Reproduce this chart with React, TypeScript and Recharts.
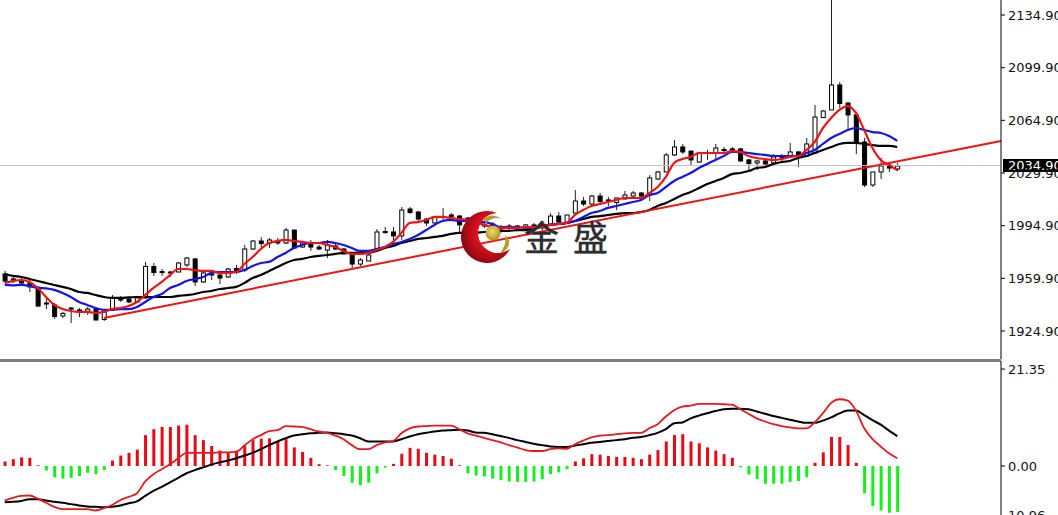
import { Bar, Cell, ComposedChart, Line, ReferenceLine, XAxis, YAxis } from 'recharts';

// candles, oldest first
const opens = [1962.8,1959.5,1958.1,1956.8,1954,1943.5,1942.2,1934.9,1939.5,1938.9,1938,1939.5,1932.6,1938.9,1946.9,1946.2,1944.2,1946.9,1967.8,1964.4,1964.1,1964.1,1968.8,1972.8,1957.5,1962.1,1962.1,1960.8,1966.4,1965.4,1979.4,1984.7,1983.4,1984.7,1983.4,1992,1980.7,1982.7,1980.7,1978.7,1981.4,1979.4,1976.1,1969.4,1971.4,1979.4,1991,1990.7,1988.1,2006,2004,1999.3,1996.7,2000.7,2002,2001.3,1999.3,1998,1995.4,1996,1993.4,1994,1993.4,1993.4,1995.4,1993.4,1996,2001.3,1997.3,2003.3,2011.3,2009.3,2014.6,2012,2010.3,2012.6,2014.6,2016.6,2015.3,2025.9,2030.6,2041.9,2047.2,2044.5,2037.2,2043.5,2043.2,2045.5,2045.9,2045.9,2038.6,2036.6,2037.9,2036.6,2040.9,2040.6,2043.9,2041.2,2043.2,2066.8,2071.8,2088.4,2076.4,2068.5,2050.5,2021.9,2030.6,2035.2,2032.6];
const highs = [1964.8,1960.8,1960.1,1959.5,1954.8,1946.9,1943.5,1937.6,1940.9,1940.2,1940.9,1939.5,1938.2,1948.8,1948.2,1946.9,1948.2,1970.8,1970.1,1966.1,1964.8,1970.8,1974.1,1973.4,1965.4,1964.8,1964.1,1966.8,1968.8,1982.1,1985.4,1987.4,1986.7,1986.7,1993.4,1992,1984.1,1985.4,1982.1,1985.4,1983.4,1980.1,1976.1,1973.4,1978.1,1992.7,1994,1994,2007.3,2007.3,2004.7,2000,2001.3,2006.7,2003.3,2002,2000.7,1998.7,1996.7,1997.3,1995.4,1996,1995.4,1996,1996.7,1997.3,2003.3,2004,2002,2018.6,2014,2015.3,2016.6,2014,2013.3,2018,2018,2017.3,2028.6,2031.2,2043.2,2051.8,2049.2,2044.5,2043.9,2045.2,2049.2,2047.2,2047.2,2046.5,2039.2,2038.6,2039.2,2042.5,2042.5,2049.9,2044.5,2053.2,2075.1,2071.8,2160,2090.4,2077.1,2070.4,2053.2,2030.6,2039.9,2037.2,2036.6];
const lows = [1956.8,1956.8,1955.5,1950.8,1940.9,1939.5,1932.9,1933.6,1930.2,1934.2,1935.6,1932.2,1931.6,1938.2,1944.2,1943.5,1943.5,1946.2,1961.5,1961.5,1960.8,1964.1,1967.4,1954.8,1956.8,1958.8,1956.1,1960.1,1962.8,1964.1,1978.7,1980.1,1980.1,1982.1,1982.7,1980.1,1980.1,1978.1,1978.7,1973.4,1978.7,1976.1,1966.1,1968.1,1971.4,1978.7,1989.4,1982.1,1985.4,2002.7,1997.3,1994.7,1996,1998.7,1999.3,1990.1,1997.3,1994.7,1993.4,1993.4,1990.1,1992,1992,1992.7,1992,1990.7,1995.4,1996.7,1996.7,2002.7,2008,2008.6,2009.3,2008,2005.3,2012.6,2014,2014,2011.3,2025.3,2030.6,2041.2,2042.5,2035.2,2036.6,2038.6,2039.2,2042.5,2043.2,2037.2,2031.2,2031.9,2033.2,2035.2,2037.9,2039.9,2033.9,2041.2,2043.2,2066.5,2071.8,2073.1,2057.8,2042.5,2020.6,2020.6,2025.9,2030.6,2031.2];
const closes = [1958.1,1958.8,1956.8,1954.2,1941.5,1942.9,1934.5,1936.6,1940.2,1938.2,1939.5,1932.2,1937.6,1946.9,1945.5,1944.2,1946.9,1967.8,1963.8,1963.8,1963.5,1970.1,1973.4,1957.5,1963.5,1962.8,1960.1,1966.1,1964.1,1979.4,1984.7,1983,1985.4,1983.4,1992,1980.1,1983.4,1980.7,1979.4,1982.1,1979.4,1976.1,1969.4,1972.1,1975.4,1990.7,1990.4,1988.1,2005.3,2003.7,1999.3,1996.7,2000.7,2001,2001,1995.4,2000,1996.7,1994.7,1994.4,1992.7,1994.7,1994.7,1995.4,1994,1996,2001.3,1997.3,2002,2011.3,2009.3,2014.6,2011,2011.3,2013.3,2015.3,2016.6,2014.6,2026.6,2030.6,2041.9,2047.2,2043.9,2038.6,2043.2,2042.9,2046.5,2044.9,2044.1,2037.9,2036.2,2037.9,2035.9,2040.6,2040.6,2043.9,2041.9,2049.2,2067.1,2071.1,2088.4,2076.1,2068.5,2049.9,2021.9,2030.6,2034.6,2033.2,2034.6];

// moving averages
const maRed = [1956.8,1958.1,1958.8,1957.5,1953.5,1947.5,1942.2,1939.5,1938.2,1937.6,1937.6,1936.9,1937.6,1939.5,1940.2,1941.5,1944.2,1948.8,1953.5,1957.5,1962.1,1966.1,1966.1,1965.4,1964.8,1964.8,1963.5,1963.5,1964.1,1969.4,1974.1,1979.4,1983.4,1984.7,1985.4,1984.7,1984.1,1983.4,1983.4,1982.1,1980.7,1978.1,1976.1,1976.1,1976.8,1978.7,1980.7,1984.1,1990.1,1996.7,1997.3,1998.7,2000.7,2000.7,2000,1999.3,1998.7,1997.3,1995.4,1994,1993.4,1993.4,1993.4,1994,1994,1994,1995.4,1996,1996.7,2002,2005.3,2008,2009.3,2010.6,2012,2013.3,2013.3,2013.3,2016.6,2020.6,2027.3,2036.6,2039.2,2040.6,2043.2,2043.2,2043.2,2043.2,2044.5,2043.9,2041.2,2039.9,2039.2,2038.6,2039.2,2040.6,2041.2,2045.2,2050.5,2059.8,2066.5,2071.8,2074.4,2069.8,2058.5,2046.5,2038.6,2035.2,2031.9];
const maBlue = [1955.5,1955.2,1955.5,1954.8,1953.5,1953.2,1952.2,1950.2,1947.5,1944.2,1942.2,1940.2,1938.9,1938.9,1939.5,1939.5,1940.9,1944.2,1947.5,1949.5,1953.5,1955.5,1958.1,1959.5,1960.8,1963.5,1964.1,1964.1,1964.1,1965.4,1968.1,1970.1,1970.8,1974.1,1976.8,1980.1,1982.1,1983.4,1983.4,1984.1,1983.4,1982.1,1980.1,1978.1,1978.1,1979.4,1980.7,1982.7,1984.1,1986.1,1988.7,1992,1995.4,1998,1998.7,1998,1998,1997.3,1997.3,1996,1994,1994,1994,1993.4,1993.4,1994,1995.4,1996,1996.7,1998,2000.7,2003.3,2004.7,2006.7,2008,2009.3,2010.6,2012,2015.3,2016.6,2020.6,2024.6,2027.3,2029.9,2033.2,2035.9,2038.6,2041.2,2043.9,2043.9,2043.2,2042.5,2041.9,2041.2,2041.2,2041.2,2041.2,2043.2,2045.2,2049.2,2053.2,2055.8,2058.5,2059.8,2058.5,2057.1,2056.5,2054.5,2051.2];
const maBlack = [1962.8,1961.5,1960.8,1959.5,1958.1,1956.8,1955.5,1954.2,1952.8,1950.8,1950.2,1948.8,1947.5,1946.9,1946.9,1947.2,1947.5,1947.5,1947.5,1947.5,1947.5,1948.2,1948.8,1949.5,1950.8,1951.5,1952.8,1953.5,1954.2,1956.8,1960.1,1962.1,1964.8,1967.4,1970.1,1972.1,1972.8,1974.1,1974.8,1975.4,1976.1,1976.8,1976.8,1976.8,1976.8,1978.1,1980.1,1981.4,1983.4,1984.7,1986.1,1986.7,1987.4,1988.1,1989.4,1990.1,1990.1,1990.1,1990.7,1990.7,1991.4,1991.4,1992,1992,1992.7,1994.7,1995.4,1996,1996.7,1998,1999.3,2000.7,2001.3,2002,2002.7,2003.3,2003.3,2004,2005.3,2008,2010,2012.6,2015.3,2017.3,2019.9,2022.6,2024.6,2026.6,2029.2,2029.9,2031.2,2033.2,2033.9,2035.9,2037.2,2037.9,2039.9,2041.2,2043.2,2045.2,2047.2,2049.2,2049.9,2049.9,2049.2,2048.5,2047.9,2047.9,2047.2];

// lower panel
const histogram = [1,1.5,1.9,1.8,0.15,-1,-2.5,-2.8,-2.6,-2.2,-1.5,-1.8,-0.9,1.2,2.3,2.9,3.6,6.8,8.1,8.6,8.6,8.9,9.1,6.8,5.7,4.4,3.4,2.9,3.4,4.5,5.7,6,6.1,5.4,5.9,4.1,3.1,1.8,0.4,0.15,-0.9,-2.2,-3.7,-4.2,-3.7,-1.6,-0.35,0.45,2.7,4,3.8,2.9,2.5,2.2,1.6,0.15,-1.6,-2.1,-2.3,-2.8,-3.1,-3.4,-3.5,-3.5,-3.4,-2.9,-1.8,-1.4,-0.7,1,1.7,2.6,2.5,2.2,2,2,1.8,1.5,2.5,3.5,5.4,6.8,7,5.4,5,4.1,3.4,2.6,1.8,-0.3,-1.9,-2.9,-3.9,-3.9,-3.9,-3.5,-3.3,-2.5,0.7,3,6.4,6.4,4.6,0.7,-6,-8.8,-9.8,-10.3,-10.1];
const signalRed = [-7.6,-7,-6.6,-6.5,-7.2,-8.1,-9,-9.5,-9.5,-9.5,-9.5,-9.8,-9.3,-8.6,-7.5,-6.8,-6,-3.4,-1.8,-0.7,0.4,1.7,2.9,2.9,2.9,2.9,3,3,3.1,4.5,5.9,6.8,7.7,7.9,8.8,8.7,8.6,8.1,7.6,7.3,6.7,5.9,4.6,3.7,3.7,4.6,5.2,5.5,7.2,8.3,8.7,8.8,8.9,8.9,8.9,8.1,7.2,6.7,6.2,5.7,5.2,4.6,4.1,3.5,3.3,3.3,3.7,3.9,3.8,4.8,5.6,6.3,6.7,6.8,7,7.2,7.3,7.3,8.3,9.2,10.9,12.3,13.1,13.3,13.7,13.7,13.7,13.6,13.5,12.5,11.5,10.5,9.8,9.2,8.8,8.5,8.3,8.3,9.6,11.6,13.9,14.7,14.4,12.2,8.3,5.9,4.3,2.8,1.7];
const signalBlack = [-8,-7.9,-7.7,-7.3,-7.3,-7.6,-7.9,-8.1,-8.4,-8.7,-8.9,-9,-9.1,-9,-8.7,-8.2,-7.8,-6.6,-5.5,-4.6,-3.6,-2.6,-1.6,-0.9,-0.3,0.3,0.8,1.2,1.7,2.3,2.9,3.7,4.6,5.4,6.1,6.7,7,7.2,7.3,7.4,7.2,7,6.7,6.1,5.4,5.4,5.4,5.4,5.9,6.5,7,7.3,7.6,7.8,7.9,8,7.8,7.4,7.3,7,6.6,6.2,5.7,5.3,4.9,4.6,4.3,4.2,4.2,4.5,4.8,5.1,5.3,5.5,5.7,5.9,6.2,6.4,6.8,7.3,8.1,9.4,9.6,10.5,11.1,11.6,12.1,12.5,12.6,12.6,12.5,12,11.5,11,10.6,10.2,9.8,9.5,9.5,10,10.7,11.6,12.2,12.2,11.2,10.1,9.1,7.8,6.6];

const priceTicks = [2134.9, 2099.9, 2064.9, 2029.9, 1994.9, 1959.9, 1924.9];
const macdTicks = [21.35, 0, -10.96];
const lastPrice = 2034.9;
const trendFrom = { bar: 12, price: 1933.6 };
const trendTo = { bar: 120.55, price: 2051.2 };

const rows = opens.map((open, i) => ({
  i,
  open,
  high: highs[i],
  low: lows[i],
  close: closes[i],
  maRed: maRed[i],
  maBlue: maBlue[i],
  maBlack: maBlack[i],
  histogram: histogram[i],
  signalRed: signalRed[i],
  signalBlack: signalBlack[i],
}));

const X_DOMAIN: [number, number] = [-0.569, 120.55];
const AXIS_FONT = { fontFamily: 'DejaVu Sans', fontSize: 13, fill: '#111' };

function Candle({ x, y, width, height, payload }: any) {
  const { open, high, low, close } = payload;
  const perUnit = height / (high - low);
  const cx = x + width / 2;
  const bodyTop = y + (high - Math.max(open, close)) * perUnit;
  const bodyHeight = Math.max(Math.abs(open - close) * perUnit, 1);
  return (
    <g>
      <line x1={cx} x2={cx} y1={y} y2={y + height} stroke="#222" strokeWidth={1} />
      <rect
        x={x + 0.5}
        y={bodyTop}
        width={width - 1}
        height={bodyHeight}
        fill={close < open ? '#000' : '#fff'}
        stroke="#000"
        strokeWidth={1}
      />
    </g>
  );
}

function PriceTag({ viewBox }: any) {
  const right = viewBox.x + viewBox.width;
  return (
    <g>
      <rect x={right + 2} y={viewBox.y - 6.5} width={56} height={13} fill="#000" />
      <text x={right + 7} y={viewBox.y + 4.5} fontFamily="DejaVu Sans" fontSize={13} fill="#fff">
        {lastPrice.toFixed(2)}
      </text>
    </g>
  );
}

function Logo() {
  return (
    <svg width={1058} height={515} style={{ position: 'absolute', left: 0, top: 0, pointerEvents: 'none' }}>
      <defs>
        <radialGradient id="moon" cx="62%" cy="42%" r="68%">
          <stop offset="35%" stopColor="#ec1420" />
          <stop offset="100%" stopColor="#7e0410" />
        </radialGradient>
        <radialGradient id="ball" cx="45%" cy="40%" r="65%">
          <stop offset="0%" stopColor="#f0dc70" />
          <stop offset="100%" stopColor="#a88a18" />
        </radialGradient>
      </defs>
      <path d="M497 213 A26 26 0 1 0 510 249 A20 20 0 1 1 497 213 Z" fill="url(#moon)" />
      <path d="M483 219 Q492 212 502 219 Q493 216 486 223 Z" fill="#b89a2a" />
      <path d="M505 235 Q513 242 506 250 Q503 253 500 253 Q507 245 505 235 Z" fill="#b89a2a" />
      <circle cx={493} cy={233} r={7.5} fill="url(#ball)" />
      <text x={524} y={251} fontFamily="Noto Sans CJK SC" fontSize={35} fill="#2c2c2c" stroke="#2c2c2c" strokeWidth={0.4}>
        金
      </text>
      <text x={573} y={251} fontFamily="Noto Sans CJK SC" fontSize={35} fill="#2c2c2c" stroke="#2c2c2c" strokeWidth={0.4}>
        盛
      </text>
    </svg>
  );
}

export default function App() {
  return (
    <div style={{ position: 'absolute', left: 0, top: 0, width: 1058, height: 515, overflow: 'hidden', background: '#fff' }}>
      <div style={{ position: 'absolute', left: 0, top: 0 }}>
        <ComposedChart width={1058} height={359} data={rows} margin={{ top: 0, right: 0, bottom: 0, left: 0 }}>
          <XAxis dataKey="i" type="number" domain={X_DOMAIN} allowDataOverflow hide />
          <YAxis
            orientation="right"
            width={57}
            domain={[1906.3, 2144.87]}
            allowDataOverflow
            ticks={priceTicks}
            interval={0}
            tickFormatter={(v: number) => v.toFixed(2)}
            tick={AXIS_FONT}
            tickSize={4}
            tickMargin={3}
            stroke="#000"
          />
          <ReferenceLine y={lastPrice} stroke="#c4c4c4" strokeWidth={1} label={<PriceTag />} />
          <Bar dataKey={(d: any) => [d.low, d.high]} barSize={5} shape={<Candle />} isAnimationActive={false} />
          <Line type="monotone" dataKey="maBlack" stroke="#000" strokeWidth={2.2} dot={false} activeDot={false} isAnimationActive={false} />
          <Line type="monotone" dataKey="maBlue" stroke="#1414e6" strokeWidth={2.2} dot={false} activeDot={false} isAnimationActive={false} />
          <Line type="monotone" dataKey="maRed" stroke="#ee1414" strokeWidth={2.2} dot={false} activeDot={false} isAnimationActive={false} />
          <ReferenceLine
            segment={[
              { x: trendFrom.bar, y: trendFrom.price },
              { x: trendTo.bar, y: trendTo.price },
            ]}
            stroke="#ee1414"
            strokeWidth={2}
          />
        </ComposedChart>
      </div>
      <div style={{ position: 'absolute', left: 0, top: 359, width: 1001, height: 3, background: '#7c7c7c' }} />
      <div style={{ position: 'absolute', left: 0, top: 361 }}>
        <ComposedChart width={1058} height={170} data={rows} margin={{ top: 0, right: 0, bottom: 0, left: 0 }}>
          <XAxis dataKey="i" type="number" domain={X_DOMAIN} allowDataOverflow hide />
          <YAxis
            orientation="right"
            width={57}
            domain={[-14.32, 23.13]}
            allowDataOverflow
            ticks={macdTicks}
            interval={0}
            tickFormatter={(v: number) => (v < 0 ? Math.abs(v).toFixed(2) : v.toFixed(2))}
            tick={AXIS_FONT}
            tickSize={4}
            tickMargin={3}
            stroke="#000"
          />
          <Bar dataKey="histogram" barSize={3} isAnimationActive={false}>
            {histogram.map((value, idx) => (
              <Cell key={idx} fill={value >= 0 ? '#e60a14' : '#14f01e'} />
            ))}
          </Bar>
          <Line type="monotone" dataKey="signalBlack" stroke="#000" strokeWidth={2} dot={false} activeDot={false} isAnimationActive={false} />
          <Line type="monotone" dataKey="signalRed" stroke="#e81820" strokeWidth={1.8} dot={false} activeDot={false} isAnimationActive={false} />
        </ComposedChart>
      </div>
      <Logo />
    </div>
  );
}
